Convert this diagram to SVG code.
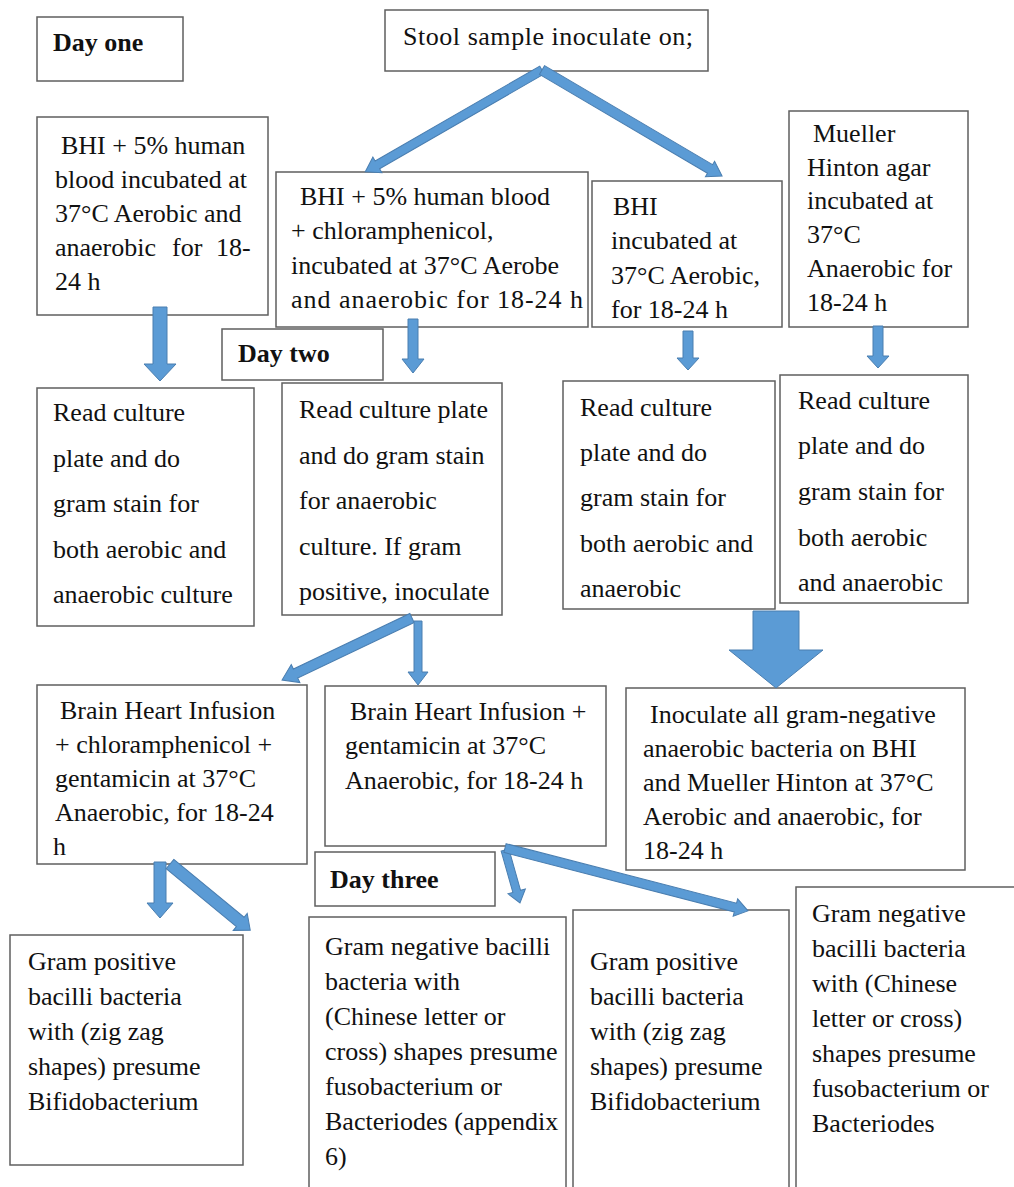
<svg xmlns="http://www.w3.org/2000/svg" width="1014" height="1187" viewBox="0 0 1014 1187">
<style>
.box{fill:#fff;stroke:#5f5f5f;stroke-width:1.5}
.t{font-family:"Liberation Serif","Times New Roman",serif;font-size:26px;fill:#111}
.b{font-weight:bold}
.ar{fill:#5b9bd5;stroke:#4a7eb0;stroke-width:1}
</style>
<rect width="1014" height="1187" fill="#fff"/>
<g id="day-one"><rect class="box" x="37" y="17" width="146" height="64"/><text class="t b" x="53" y="51">Day one</text></g>
<g id="stool"><rect class="box" x="385" y="10" width="323" height="61"/><text class="t" x="403" y="45" textLength="290" lengthAdjust="spacing">Stool sample inoculate on;</text></g>
<g id="bhi-blood"><rect class="box" x="37" y="117" width="231" height="198"/>
<text class="t" x="61" y="154">BHI + 5% human</text>
<text class="t" x="55" y="188">blood incubated at</text>
<text class="t" x="55" y="222">37°C Aerobic and</text>
<text class="t" x="55" y="256">anaerobic</text><text class="t" x="172" y="256">for</text><text class="t" x="216" y="256">18-</text>
<text class="t" x="55" y="290">24 h</text></g>
<g id="bhi-chlor"><rect class="box" x="276" y="172" width="312" height="155"/>
<text class="t" x="300" y="205">BHI + 5% human blood</text>
<text class="t" x="291" y="239">+ chloramphenicol,</text>
<text class="t" x="291" y="274">incubated at 37°C Aerobe</text>
<text class="t" x="291" y="308" textLength="292" lengthAdjust="spacing">and anaerobic for 18-24 h</text></g>
<g id="bhi"><rect class="box" x="592" y="181" width="190" height="146"/>
<text class="t" x="613" y="215">BHI</text>
<text class="t" x="611" y="249">incubated at</text>
<text class="t" x="611" y="284">37°C Aerobic,</text>
<text class="t" x="611" y="318">for 18-24 h</text></g>
<g id="mueller"><rect class="box" x="789" y="111" width="179" height="216"/>
<text class="t" x="813" y="142">Mueller</text>
<text class="t" x="807" y="176">Hinton agar</text>
<text class="t" x="807" y="209">incubated at</text>
<text class="t" x="807" y="243">37°C</text>
<text class="t" x="807" y="277">Anaerobic for</text>
<text class="t" x="807" y="311">18-24 h</text></g>
<g id="day-two"><rect class="box" x="222" y="329" width="161" height="51"/><text class="t b" x="238" y="362">Day two</text></g>
<g id="read1"><rect class="box" x="37" y="388" width="217" height="238"/>
<text class="t" x="53" y="421">Read culture</text>
<text class="t" x="53" y="467">plate and do</text>
<text class="t" x="53" y="512">gram stain for</text>
<text class="t" x="53" y="558">both aerobic and</text>
<text class="t" x="53" y="603">anaerobic culture</text></g>
<g id="read2"><rect class="box" x="282" y="383" width="220" height="232"/>
<text class="t" x="299" y="418">Read culture plate</text>
<text class="t" x="299" y="464">and do gram stain</text>
<text class="t" x="299" y="509">for anaerobic</text>
<text class="t" x="299" y="555">culture. If gram</text>
<text class="t" x="299" y="600">positive, inoculate</text></g>
<g id="read3"><rect class="box" x="563" y="381" width="212" height="228"/>
<text class="t" x="580" y="416">Read culture</text>
<text class="t" x="580" y="461">plate and do</text>
<text class="t" x="580" y="506">gram stain for</text>
<text class="t" x="580" y="552">both aerobic and</text>
<text class="t" x="580" y="597">anaerobic</text></g>
<g id="read4"><rect class="box" x="780" y="375" width="188" height="228"/>
<text class="t" x="798" y="409">Read culture</text>
<text class="t" x="798" y="454">plate and do</text>
<text class="t" x="798" y="500">gram stain for</text>
<text class="t" x="798" y="546">both aerobic</text>
<text class="t" x="798" y="591">and anaerobic</text></g>
<g id="bhi-chlor-gent"><rect class="box" x="37" y="685" width="270" height="179"/>
<text class="t" x="60" y="719">Brain Heart Infusion</text>
<text class="t" x="55" y="753">+ chloramphenicol +</text>
<text class="t" x="55" y="787">gentamicin at 37°C</text>
<text class="t" x="55" y="821">Anaerobic, for 18-24</text>
<text class="t" x="53" y="855">h</text></g>
<g id="bhi-gent"><rect class="box" x="325" y="686" width="281" height="160"/>
<text class="t" x="350" y="720">Brain Heart Infusion +</text>
<text class="t" x="345" y="754">gentamicin at 37°C</text>
<text class="t" x="345" y="789">Anaerobic, for 18-24 h</text></g>
<g id="inoculate"><rect class="box" x="626" y="688" width="339" height="182"/>
<text class="t" x="650" y="723">Inoculate all gram-negative</text>
<text class="t" x="643" y="757">anaerobic bacteria on BHI</text>
<text class="t" x="643" y="791">and Mueller Hinton at 37°C</text>
<text class="t" x="643" y="825">Aerobic and anaerobic, for</text>
<text class="t" x="643" y="859">18-24 h</text></g>
<g id="day-three"><rect class="box" x="315" y="852" width="180" height="54"/><text class="t b" x="330" y="888">Day three</text></g>
<g id="gp1"><rect class="box" x="10" y="935" width="233" height="230"/>
<text class="t" x="28" y="970">Gram positive</text>
<text class="t" x="28" y="1005">bacilli bacteria</text>
<text class="t" x="28" y="1040">with (zig zag</text>
<text class="t" x="28" y="1075">shapes) presume</text>
<text class="t" x="28" y="1110">Bifidobacterium</text></g>
<g id="gn1"><rect class="box" x="309" y="917" width="257" height="275"/>
<text class="t" x="325" y="955">Gram negative bacilli</text>
<text class="t" x="325" y="990">bacteria with</text>
<text class="t" x="325" y="1025">(Chinese letter or</text>
<text class="t" x="325" y="1060">cross) shapes presume</text>
<text class="t" x="325" y="1095">fusobacterium or</text>
<text class="t" x="325" y="1130">Bacteriodes (appendix</text>
<text class="t" x="325" y="1165">6)</text></g>
<g id="gp2"><rect class="box" x="573" y="910" width="216" height="282"/>
<text class="t" x="590" y="970">Gram positive</text>
<text class="t" x="590" y="1005">bacilli bacteria</text>
<text class="t" x="590" y="1040">with (zig zag</text>
<text class="t" x="590" y="1075">shapes) presume</text>
<text class="t" x="590" y="1110">Bifidobacterium</text></g>
<g id="gn2"><rect class="box" x="796" y="887" width="222" height="305"/>
<text class="t" x="812" y="922">Gram negative</text>
<text class="t" x="812" y="957">bacilli bacteria</text>
<text class="t" x="812" y="992">with (Chinese</text>
<text class="t" x="812" y="1027">letter or cross)</text>
<text class="t" x="812" y="1062">shapes presume</text>
<text class="t" x="812" y="1097">fusobacterium or</text>
<text class="t" x="812" y="1132">Bacteriodes</text></g>
<g id="connectors">
<polygon class="ar" transform="translate(542,70) rotate(150.05)" points="0,-4.5 190,-4.5 190,-9 204,0 190,9 190,4.5 0,4.5"/>
<polygon class="ar" transform="translate(542,70) rotate(30.5)" points="0,-5 195,-5 195,-9 209,0 195,9 195,5 0,5"/>
<polygon class="ar" points="153,307 167,307 167,364 176,364 160,381 144,364 153,364"/>
<polygon class="ar" points="408,319 418,319 418,359 424,359 413,373 402,359 408,359"/>
<polygon class="ar" points="683,331 693,331 693,358 699,358 688,370 677,358 683,358"/>
<polygon class="ar" points="873,326 883,326 883,356 889,356 878,368 867,356 873,356"/>
<polygon class="ar" points="753,611 799,611 799,650 823,650 776,688 729,650 753,650"/>
<polygon class="ar" transform="translate(412,618) rotate(154.5)" points="0,-5 129,-5 129,-10 144,0 129,10 129,5 0,5"/>
<polygon class="ar" points="414,621 422,621 422,672 428,672 418,685 408,672 414,672"/>
<polygon class="ar" points="154,862 166,862 166,903 173,903 160,918 147,903 154,903"/>
<polygon class="ar" transform="translate(170,864) rotate(39.5)" points="0,-6 91,-6 91,-11 104,0 91,11 91,6 0,6"/>
<polygon class="ar" transform="translate(505,850) rotate(74.2)" points="0,-4 43,-4 43,-9 55,0 43,9 43,4 0,4"/>
<polygon class="ar" transform="translate(505,848) rotate(14.5)" points="0,-4.5 238,-4.5 238,-9 251,0 238,9 238,4.5 0,4.5"/>
</g>
</svg>
